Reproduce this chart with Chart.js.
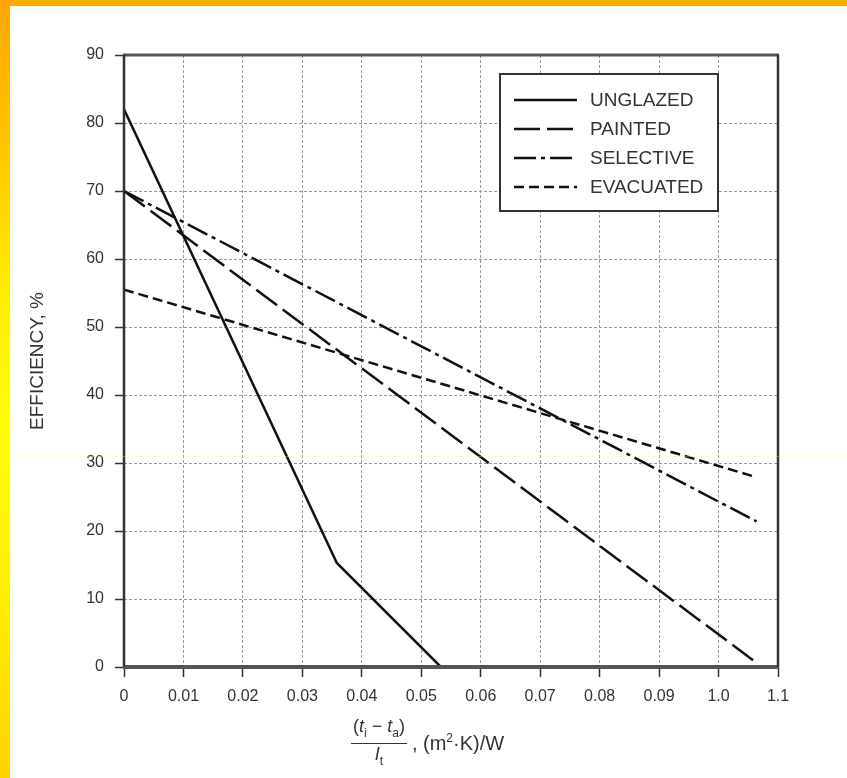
<!DOCTYPE html>
<html>
<head>
<meta charset="utf-8">
<script src="https://cdn.jsdelivr.net/npm/chart.js@4.4.1/dist/chart.umd.min.js"></script>
<style>
  html, body { margin: 0; padding: 0; background: #fff; }
  body { width: 847px; height: 778px; position: relative; overflow: hidden; font-family: "Liberation Sans", Arial, sans-serif; }
  #topbar { position: absolute; left: 0; top: 0; width: 847px; height: 6px; background: #ffaa00; }
  #leftbar { position: absolute; left: 0; top: 0; width: 10px; height: 778px;
    background: linear-gradient(to bottom, #ffa500 0%, #ffc400 18%, #ffee00 38%, #ffff00 55%, #fff000 75%, #ffd200 100%); }
  #streak { position: absolute; left: 0; top: 456px; width: 847px; height: 1px; background: rgba(255,255,120,0.3); }
  #wrap { position: absolute; left: 0; top: 0; width: 847px; height: 778px; }
  #xtitle { position: absolute; left: 351px; top: 716px; color: #333; font-size: 18px; white-space: nowrap; display: flex; align-items: center; }
  .frac { display: inline-flex; flex-direction: column; align-items: center; }
  .num { border-bottom: 1.5px solid #333; padding: 0 2px 0; line-height: 20px; }
  .den { line-height: 20px; }
  .frac i { font-style: italic; }
  sub, sup { font-size: 12px; }
  .unit { margin-left: 5px; font-size: 20px; }
</style>
</head>
<body>
<div id="wrap"><canvas id="chart" width="847" height="778"></canvas></div>
<div id="topbar"></div>
<div id="leftbar"></div>
<div id="streak"></div>
<div id="xtitle">
  <span class="frac"><span class="num">(<i>t</i><sub>i</sub> − <i>t</i><sub>a</sub>)</span><span class="den"><i>I</i><sub>t</sub></span></span>
  <span class="unit">, (m<sup>2</sup>·K)/W</span>
</div>
<script>
// values
const xTickLabels = ['0', '0.01', '0.02', '0.03', '0.04', '0.05', '0.06', '0.07', '0.08', '0.09', '1.0', '1.1'];
const seriesNames = ['UNGLAZED', 'PAINTED', 'SELECTIVE', 'EVACUATED'];

const unglazedX = [0, 0.0358, 0.0533];
const unglazedY = [82, 15.3, 0];
const paintedX = [0, 0.1058];
const paintedY = [70, 1.0];
const selectiveX = [0, 0.1064];
const selectiveY = [70, 21.4];
const evacuatedX = [0, 0.1064];
const evacuatedY = [55.5, 27.9];

const dashes = [[], [26, 7], [22, 5, 4, 5], [10, 5]];
const FONT = '"Liberation Sans", Arial, sans-serif';

function pts(xs, ys) {
  return xs.map((x, i) => ({ x: x, y: ys[i] }));
}

const seriesData = [
  pts(unglazedX, unglazedY),
  pts(paintedX, paintedY),
  pts(selectiveX, selectiveY),
  pts(evacuatedX, evacuatedY)
];

// frame round the plot and the boxed legend
const framePlugin = {
  id: 'frame',
  afterDraw(chart) {
    const { ctx, chartArea: a } = chart;
    ctx.save();
    ctx.setLineDash([]);
    ctx.strokeStyle = '#555';
    ctx.lineWidth = 3;
    ctx.beginPath(); ctx.moveTo(a.left - 1, a.top); ctx.lineTo(a.right + 1, a.top); ctx.stroke();
    ctx.lineWidth = 4;
    ctx.beginPath(); ctx.moveTo(a.left - 1, a.bottom); ctx.lineTo(a.right + 1, a.bottom); ctx.stroke();
    ctx.strokeStyle = '#333';
    ctx.lineWidth = 2.5;
    ctx.beginPath(); ctx.moveTo(a.left, a.top); ctx.lineTo(a.left, a.bottom); ctx.stroke();
    ctx.beginPath(); ctx.moveTo(a.right, a.top); ctx.lineTo(a.right, a.bottom); ctx.stroke();

    // legend
    const bx = 500, by = 74, bw = 218, bh = 137;
    ctx.fillStyle = '#fff';
    ctx.fillRect(bx, by, bw, bh);
    ctx.strokeStyle = '#333';
    ctx.lineWidth = 2;
    ctx.strokeRect(bx, by, bw, bh);
    ctx.font = '19px ' + FONT;
    ctx.textBaseline = 'middle';
    chart.data.datasets.forEach((ds, i) => {
      const y = 100 + i * 29;
      ctx.strokeStyle = '#111';
      ctx.lineWidth = 2.5;
      ctx.setLineDash(ds.borderDash || []);
      ctx.beginPath(); ctx.moveTo(514, y); ctx.lineTo(577, y); ctx.stroke();
      ctx.setLineDash([]);
      ctx.fillStyle = '#333';
      ctx.fillText(ds.label, 590, y + 1);
    });
    ctx.restore();
  }
};

new Chart(document.getElementById('chart'), {
  type: 'scatter',
  data: {
    datasets: seriesData.map((d, i) => ({
      label: seriesNames[i],
      data: d,
      showLine: true,
      borderColor: '#111',
      borderWidth: 2.5,
      borderDash: dashes[i],
      pointRadius: 0,
      fill: false
    }))
  },
  options: {
    responsive: false,
    animation: false,
    layout: { padding: { top: 55, right: 69, bottom: 0, left: 0 } },
    plugins: { legend: { display: false }, tooltip: { enabled: false } },
    scales: {
      x: {
        type: 'linear',
        min: 0,
        max: 0.11,
        afterFit(s) { s.height = 111; },
        ticks: {
          stepSize: 0.01,
          autoSkip: false,
          maxRotation: 0,
          padding: 10,
          color: '#333',
          font: { family: FONT, size: 16 },
          callback: (v, i) => xTickLabels[i]
        },
        grid: { color: '#999', lineWidth: 1, tickLength: 10, tickColor: '#333', tickWidth: 1.5, tickBorderDash: [] },
        border: { display: false, dash: [3, 2] }
      },
      y: {
        min: 0,
        max: 90,
        afterFit(s) { s.width = 124; },
        ticks: {
          stepSize: 10,
          padding: 11,
          color: '#333',
          font: { family: FONT, size: 16 }
        },
        grid: { color: '#999', lineWidth: 1, tickLength: 9, tickColor: '#333', tickWidth: 1.5, tickBorderDash: [] },
        border: { display: false, dash: [3, 2] },
        title: {
          display: true,
          text: 'EFFICIENCY, %',
          color: '#333',
          font: { family: FONT, size: 19 },
          padding: { top: 26, bottom: 0 }
        }
      }
    }
  },
  plugins: [framePlugin]
});
</script>
</body>
</html>
